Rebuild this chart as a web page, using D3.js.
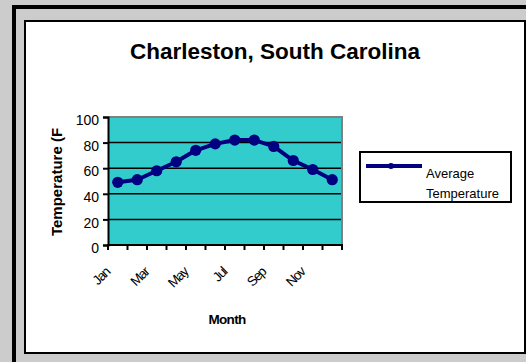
<!DOCTYPE html>
<html>
<head>
<meta charset="utf-8">
<script src="https://cdn.jsdelivr.net/npm/d3@7"></script>
<style>
  html, body { margin: 0; padding: 0; background: #cccccc; }
  svg { display: block; font-family: Arial, "Liberation Sans", sans-serif; }
</style>
</head>
<body>
<svg id="chart" width="526" height="362"></svg>
<script>
// Monthly average temperature, Charleston SC (°F)
const months = ["Jan", "Feb", "Mar", "Apr", "May", "Jun", "Jul", "Aug", "Sep", "Oct", "Nov", "Dec"];
const avgTemp = [49, 51, 58, 65, 74, 79, 82, 82, 77, 66, 59, 51];
const yTicks = [0, 20, 40, 60, 80, 100];
const shownMonthLabels = ["Jan", "Mar", "May", "Jul", "Sep", "Nov"];

const svg = d3.select("#chart");
const navy = "#000080";

// Frames: gray page, heavy outer rule, white chart area
svg.append("rect").attr("x", 0).attr("y", 0).attr("width", 526).attr("height", 362).attr("fill", "#cccccc");
svg.append("rect").attr("x", 14).attr("y", 7).attr("width", 700).attr("height", 700)
  .attr("fill", "none").attr("stroke", "#000").attr("stroke-width", 4);
svg.append("rect").attr("x", 25).attr("y", 21).attr("width", 500).attr("height", 332)
  .attr("fill", "#fff").attr("stroke", "#000").attr("stroke-width", 2);

// Title
svg.append("text").attr("x", 275).attr("y", 59).attr("text-anchor", "middle")
  .attr("font-size", 22.5).attr("font-weight", "bold").text("Charleston, South Carolina");

// Plot geometry
const plot = { left: 108, right: 342, top: 117, bottom: 245 };
const x = d3.scaleBand().domain(months).range([plot.left, plot.right]).padding(0);
const y = d3.scaleLinear().domain([0, 100]).range([plot.bottom, plot.top]);

// Plot background
svg.append("rect").attr("x", plot.left).attr("y", plot.top)
  .attr("width", plot.right - plot.left).attr("height", plot.bottom - plot.top)
  .attr("fill", "#33cccc");

// Gridlines
svg.append("g").selectAll("line").data(yTicks.filter(d => d > 0 && d < 100)).join("line")
  .attr("x1", plot.left).attr("x2", plot.right)
  .attr("y1", d => y(d)).attr("y2", d => y(d))
  .attr("stroke", "#000").attr("stroke-width", 1.5);

// Gray frame on top and right of the plot area
svg.append("path")
  .attr("d", `M${plot.left},${plot.top}H${plot.right}V${plot.bottom}`)
  .attr("fill", "none").attr("stroke", "#808080").attr("stroke-width", 2);

// Y axis
const yAxis = d3.axisLeft(y).tickValues(yTicks).tickSize(5).tickPadding(4);
const gy = svg.append("g").attr("transform", `translate(${plot.left},0)`).call(yAxis);
gy.select(".domain").attr("stroke", "#000").attr("stroke-width", 2);
gy.selectAll(".tick line").attr("stroke", "#000").attr("stroke-width", 2);
gy.selectAll(".tick text").attr("font-size", 14).attr("fill", "#000")
  .attr("font-family", "Arial, 'Liberation Sans', sans-serif").attr("dy", "0.55em");

// X axis: ticks on category boundaries
const boundaries = months.map(m => x(m)).concat([plot.right]);
svg.append("line").attr("x1", plot.left - 1).attr("x2", plot.right + 1)
  .attr("y1", plot.bottom).attr("y2", plot.bottom)
  .attr("stroke", "#000").attr("stroke-width", 2);
svg.append("g").selectAll("line").data(boundaries).join("line")
  .attr("x1", d => d).attr("x2", d => d)
  .attr("y1", plot.bottom).attr("y2", plot.bottom + 5)
  .attr("stroke", "#000").attr("stroke-width", 2);

// Rotated month labels (every other month)
svg.append("g").selectAll("text").data(shownMonthLabels).join("text")
  .attr("transform", d => `translate(${x(d) + x.bandwidth() / 2 - 7},273) rotate(-45)`)
  .attr("text-anchor", "end").attr("font-size", 13.5).attr("letter-spacing", -1.3)
  .text(d => d);

// Axis titles
svg.append("text").attr("x", 227).attr("y", 324).attr("text-anchor", "middle")
  .attr("font-size", 13.5).attr("font-weight", "bold").attr("letter-spacing", -0.7).text("Month");
svg.append("text").attr("transform", "translate(62,182) rotate(-90)").attr("text-anchor", "middle")
  .attr("font-size", 15).attr("font-weight", "bold").text("Temperature (F");

// Series line and markers
const cx = d => x(d) + x.bandwidth() / 2;
const line = d3.line().x((d, i) => cx(months[i])).y(d => y(d));
svg.append("path").datum(avgTemp).attr("d", line)
  .attr("fill", "none").attr("stroke", navy).attr("stroke-width", 4).attr("stroke-linejoin", "round");
svg.append("g").selectAll("circle").data(avgTemp).join("circle")
  .attr("cx", (d, i) => cx(months[i])).attr("cy", d => y(d)).attr("r", 5.6).attr("fill", navy);

// Legend
const lg = svg.append("g");
lg.append("rect").attr("x", 360).attr("y", 152).attr("width", 151).attr("height", 50)
  .attr("fill", "#fff").attr("stroke", "#000").attr("stroke-width", 2);
lg.append("line").attr("x1", 366).attr("x2", 422).attr("y1", 166).attr("y2", 166)
  .attr("stroke", navy).attr("stroke-width", 4);
lg.append("circle").attr("cx", 391).attr("cy", 166).attr("r", 3).attr("fill", navy);
lg.append("text").attr("x", 426).attr("y", 178).attr("font-size", 13).text("Average");
lg.append("text").attr("x", 426).attr("y", 198).attr("font-size", 13).text("Temperature");
</script>
</body>
</html>
